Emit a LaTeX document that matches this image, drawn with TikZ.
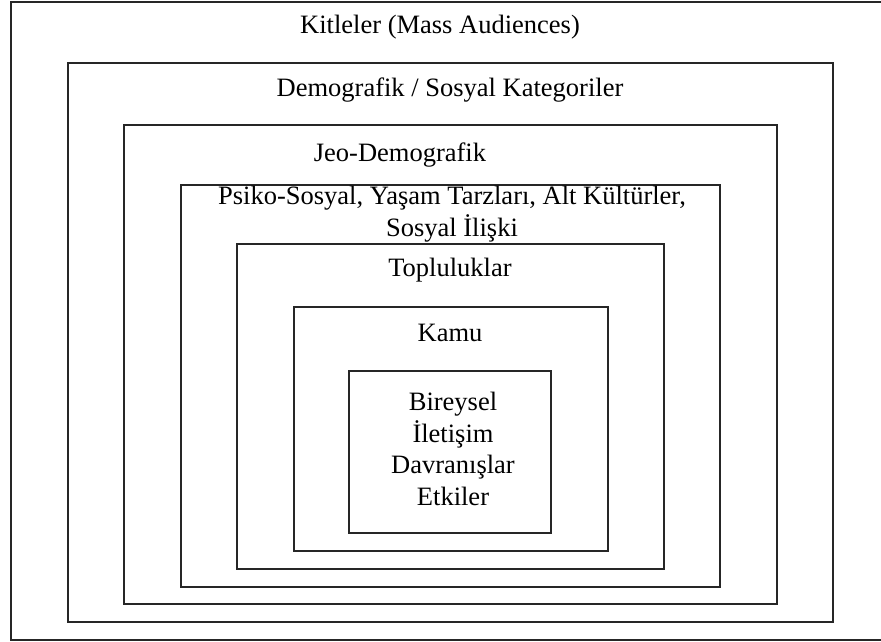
\documentclass[tikz,border=0pt]{standalone}
\usepackage{fontspec}
\setmainfont{Liberation Serif}
\begin{document}
\begin{tikzpicture}[x=1pt,y=-1pt,
  frame/.style={draw=black!85, line width=2.2pt, inner sep=0pt, anchor=north west},
  lbl/.style={font=\fontsize{26.5}{32}\selectfont, align=center, inner sep=0pt}]
\useasboundingbox (0,0) rectangle (881,641);
% nested frames, outermost first
\node[frame, minimum width=873pt, minimum height=638pt] (f1) at (10,1) {};
\node[frame, minimum width=765pt, minimum height=559pt] (f2) at (67,62) {};
\node[frame, minimum width=653pt, minimum height=479pt] (f3) at (123,124) {};
\node[frame, minimum width=539pt, minimum height=402pt] (f4) at (180,184) {};
\node[frame, minimum width=427pt, minimum height=325pt] (f5) at (236,243) {};
\node[frame, minimum width=314pt, minimum height=244pt] (f6) at (293,306) {};
\node[frame, minimum width=202pt, minimum height=162pt] (f7) at (348,370) {};
% labels
\node[lbl] (t1) at (440,27) {Kitleler (Mass Audiences)};
\node[lbl] (t2) at (450,90) {Demografik / Sosyal Kategoriler};
\node[lbl] (t3) at (400,155) {Jeo-Demografik};
\node[lbl] (t4) at (452,214) {Psiko-Sosyal, Yaşam Tarzları, Alt Kültürler,\\Sosyal İlişki};
\node[lbl] (t5) at (450,270) {Topluluklar};
\node[lbl] (t6) at (450,333) {Kamu};
\node[lbl, font=\fontsize{26.5}{31.5}\selectfont] (t7) at (453,449) {Bireysel\\İletişim\\Davranışlar\\Etkiler};
\end{tikzpicture}
\end{document}
